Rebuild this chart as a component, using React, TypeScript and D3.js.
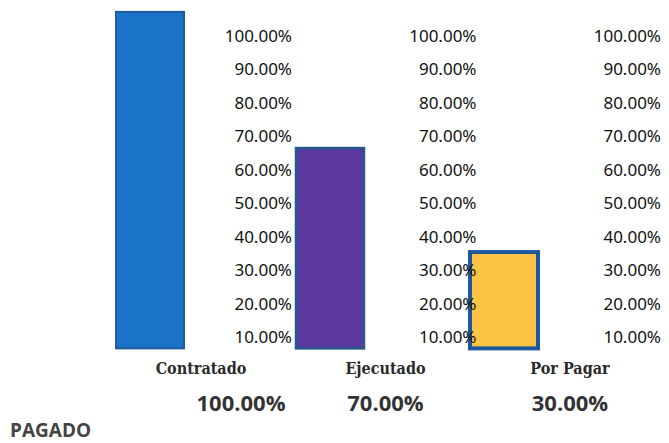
import * as d3 from 'd3';
import { useEffect, useRef } from 'react';

// chart data
const categories = ['Contratado', 'Ejecutado', 'Por Pagar'];
const shownValues = ['100.00%', '70.00%', '30.00%'];
// bar tops as they sit against the tick column (the pasted bars are not exact)
const barTops = [1.072, 0.665, 0.354];
const barBase = 0.066;
const ticks = [0.1, 0.2, 0.3, 0.4, 0.5, 0.6, 0.7, 0.8, 0.9, 1.0];
const fills = ['#1a72c9', '#5a38a0', '#fbc443'];
const strokes = ['#1d5d9c', '#25588c', '#1d57a0'];
const strokeWidths = [2, 2.5, 4];

const width = 669;
const height = 443;

const App = () => {
  const ref = useRef<SVGSVGElement | null>(null);

  useEffect(() => {
    if (!ref.current) return;
    document.body.style.margin = '0';
    const svg = d3.select(ref.current);
    svg.selectAll('*').remove();

    const y = d3.scaleLinear().domain([0.1, 1]).range([337, 36]);
    const xBar = d3.scalePoint<string>().domain(categories).range([150, 504]);
    const xTick = d3.scalePoint<string>().domain(categories).range([292, 661]);
    const xLabel = d3.scalePoint<string>().domain(categories).range([201, 570]);
    const barW = 68;

    const data = categories.map((c, i) => ({
      c,
      top: barTops[i],
      fill: fills[i],
      stroke: strokes[i],
      sw: strokeWidths[i],
      shown: shownValues[i],
    }));

    svg
      .append('g')
      .selectAll('rect')
      .data(data)
      .join('rect')
      .attr('x', (d, i) => xBar(d.c)! - barW / 2 + (i === 1 ? 3 : 0))
      .attr('y', (d) => y(d.top))
      .attr('width', barW)
      .attr('height', (d) => y(barBase) - y(d.top))
      .attr('fill', (d) => d.fill)
      .attr('stroke', (d) => d.stroke)
      .attr('stroke-width', (d) => d.sw);

    // one tick column per bar, text only
    categories.forEach((c) => {
      const axis = svg
        .append('g')
        .attr('transform', `translate(${xTick(c)},0)`)
        .call(
          d3
            .axisLeft(y)
            .tickValues(ticks)
            .tickSize(0)
            .tickPadding(0)
            .tickFormat((d) => d3.format('.2%')(d as number))
        );
      axis.select('.domain').remove();
      axis
        .selectAll('text')
        .attr('font-family', 'Noto Sans, sans-serif')
        .attr('font-size', 17)
        .attr('fill', '#111');
    });

    svg
      .append('g')
      .selectAll('text')
      .data(data)
      .join('text')
      .attr('x', (d) => xLabel(d.c)!)
      .attr('y', 374)
      .attr('text-anchor', 'middle')
      .attr('font-family', 'DejaVu Serif Condensed, DejaVu Serif, serif')
      .attr('font-weight', 'bold')
      .attr('font-size', 16)
      .attr('fill', '#2a2a2a')
      .text((d) => d.c);

    svg
      .append('g')
      .selectAll('text')
      .data(data)
      .join('text')
      .attr('x', (d) => xLabel(d.c)! + (d.c === 'Contratado' ? 40 : 0))
      .attr('y', 411)
      .attr('text-anchor', 'middle')
      .attr('font-family', 'Open Sans, sans-serif')
      .attr('font-weight', 'bold')
      .attr('font-size', 22)
      .attr('fill', '#333')
      .text((d) => d.shown);

    svg
      .append('text')
      .attr('x', 10)
      .attr('y', 437)
      .attr('font-family', 'Open Sans, sans-serif')
      .attr('font-weight', 'bold')
      .attr('font-size', 19)
      .attr('fill', '#444')
      .text('PAGADO');
  }, []);

  return (
    <svg
      ref={ref}
      width={width}
      height={height}
      style={{ position: 'absolute', left: 0, top: 0, background: '#fff' }}
    />
  );
};

export default App;
